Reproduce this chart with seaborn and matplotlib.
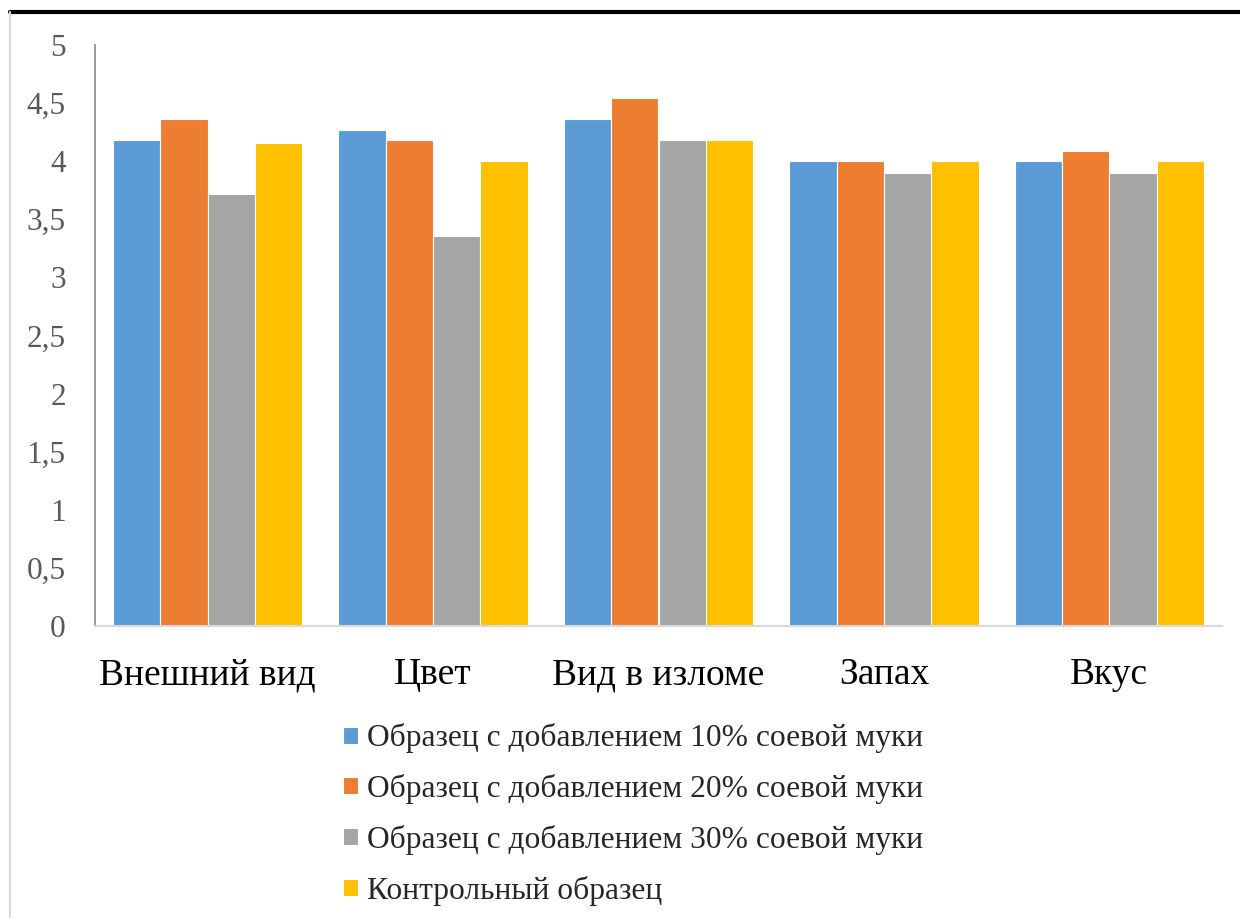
import pandas as pd
import matplotlib.pyplot as plt
import seaborn as sns
from matplotlib.lines import Line2D

# данные
categories = ["Внешний вид", "Цвет", "Вид в изломе", "Запах", "Вкус"]
series = [
    "Образец с добавлением 10% соевой муки",
    "Образец с добавлением 20% соевой муки",
    "Образец с добавлением 30% соевой муки",
    "Контрольный образец",
]
s10 = [4.18, 4.27, 4.36, 4.0, 4.0]
s20 = [4.36, 4.18, 4.54, 4.0, 4.09]
s30 = [3.72, 3.36, 4.18, 3.9, 3.9]
control = [4.16, 4.0, 4.18, 4.0, 4.0]
y_ticks = [0, 0.5, 1, 1.5, 2, 2.5, 3, 3.5, 4, 4.5, 5]
y_labels = ["0", "0,5", "1", "1,5", "2", "2,5", "3", "3,5", "4", "4,5", "5"]
colors = ["#5B9BD5", "#ED7D31", "#A5A5A5", "#FFC000"]

rows = []
for name, vals in zip(series, [s10, s20, s30, control]):
    for cat, v in zip(categories, vals):
        rows.append({"Показатель": cat, "Образец": name, "Оценка": v})
df = pd.DataFrame(rows)

sns.set_style("white")
plt.rcParams['font.family'] = ['Liberation Serif', 'DejaVu Serif']

fig = plt.figure(figsize=(12.4, 9.18), dpi=100)
ax = fig.add_axes([95 / 1240, 1 - 626 / 918, (1222 - 95) / 1240, (626 - 45) / 918])

sns.barplot(data=df, x="Показатель", y="Оценка", hue="Образец", order=categories,
            hue_order=series, palette=colors, width=0.84, gap=0,
            edgecolor="white", linewidth=0.8, saturation=1, ax=ax)

ax.set_ylim(0, 5)
ax.set_yticks(y_ticks)
ax.set_yticklabels(y_labels)
ax.set_xlabel("")
ax.set_ylabel("")
ax.tick_params(axis="y", length=0, pad=21, labelsize=22.5, labelcolor="#595959")
ax.tick_params(axis="x", length=0, pad=23, labelsize=27, labelcolor="black")
for side in ["top", "right"]:
    ax.spines[side].set_visible(False)
ax.spines["left"].set_color("#868686")
ax.spines["left"].set_linewidth(1.2)
ax.spines["bottom"].set_color("#D9D9D9")
ax.spines["bottom"].set_linewidth(1.5)

handles, labels = ax.get_legend_handles_labels()
ax.legend_.remove()
fig.legend(handles, labels, loc="upper left", bbox_to_anchor=(315 / 1240, 1 - 695 / 918),
           frameon=False, fontsize=22.7, handlelength=0.45, handleheight=0.45,
           handletextpad=0.3, labelspacing=0.66)

# рамка
fig.add_artist(Line2D([10 / 1240, 1], [1 - 12 / 918, 1 - 12 / 918], color="black", lw=3))
fig.add_artist(Line2D([10 / 1240, 10 / 1240], [0, 1 - 12 / 918], color="#D9D9D9", lw=1.5))

plt.savefig("out.png", dpi=100)
